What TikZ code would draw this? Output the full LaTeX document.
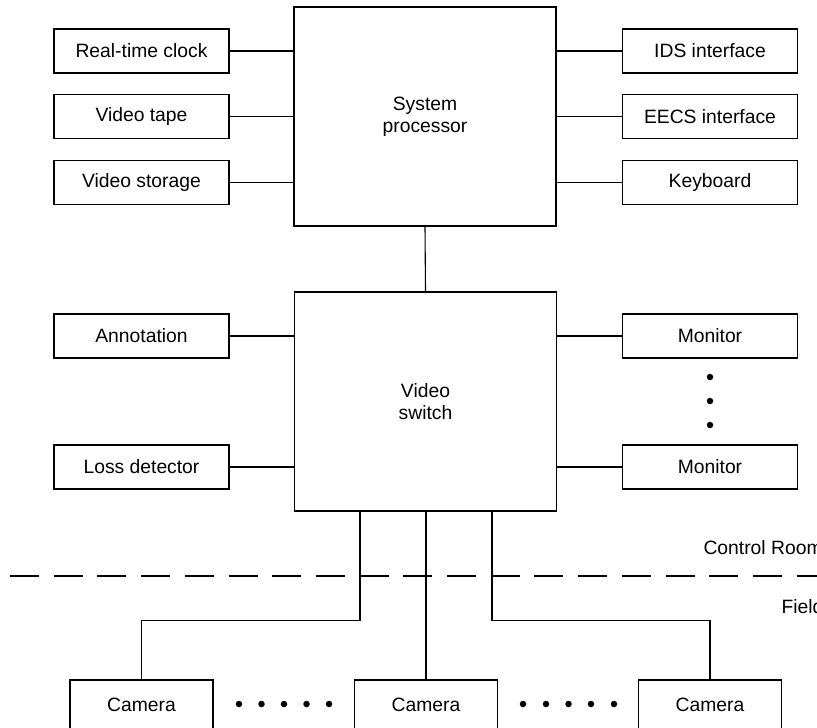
\documentclass[tikz,border=0pt]{standalone}
\usepackage{fontspec}
\setmainfont{Liberation Sans}
\begin{document}
\begin{tikzpicture}[x=1pt,y=-1pt,line width=1.1pt,
  txt/.style={font=\fontsize{19.3}{22}\selectfont},
  unit/.style={txt,draw,minimum width=175pt,minimum height=44pt,inner sep=0pt},
  core/.style={txt,draw,align=center,minimum width=262pt,minimum height=219pt,inner sep=0pt},
  cam/.style={txt,draw,minimum width=143pt,minimum height=50pt,inner sep=0pt},
  dot/.style={circle,fill,inner sep=0pt,minimum size=6.5pt},
  zone/.style={txt,anchor=west,inner sep=0pt}]
\useasboundingbox (0,0) rectangle (817,728);
\clip (0,0) rectangle (817,728);

% central blocks
\node[core] (sp) at (425,116.5) {System\\processor};
\node[core] (vs) at (425.5,401.5) {Video\\switch};

% peripherals of the system processor
\node[unit] (rtc)  at (141.5,51)    {Real-time clock};
\node[unit] (tape) at (141.5,116.5) {Video tape};
\node[unit] (stor) at (141.5,182.5) {Video storage};
\node[unit] (ids)  at (710,51)      {IDS interface};
\node[unit] (eecs) at (710,116.5)   {EECS interface};
\node[unit] (kbd)  at (710,182.5)   {Keyboard};

% peripherals of the video switch
\node[unit] (ann)  at (141.5,336)   {Annotation};
\node[unit] (loss) at (141.5,467)   {Loss detector};
\node[unit] (mon1) at (710,336)     {Monitor};
\node[unit] (mon2) at (710,467)     {Monitor};

% monitor ellipsis
\node[dot] (md1) at (710,377) {};
\node[dot] (md2) at (710,401) {};
\node[dot] (md3) at (710,425) {};

% cameras in the field
\node[cam] (cam1) at (141.5,705) {Camera};
\node[cam] (cam2) at (426,705)   {Camera};
\node[cam] (cam3) at (710,705)   {Camera};

\foreach \x [count=\i] in {239,261.5,284,306.5,329}
  \node[dot] (cdl\i) at (\x,704) {};
\foreach \x [count=\i] in {523,546,568.5,591,614}
  \node[dot] (cdr\i) at (\x,704) {};

% connectors
\foreach \n in {rtc,tape,stor,ann,loss}
  \draw (\n.east) -- (\n.east -| vs.west);
\foreach \n in {ids,eecs,kbd,mon1,mon2}
  \draw (\n.west) -- (\n.west -| vs.east);
\draw (sp.south) -- (vs.north);
\draw ([xshift=-65.5pt]vs.south) -- ++(0,109) -| (cam1.north);
\draw (cam2.north |- vs.south) -- (cam2.north);
\draw ([xshift=66.5pt]vs.south) -- ++(0,109) -| (cam3.north);

% boundary between control room and field
\draw[dash pattern=on 29pt off 14.7pt] (10,576) -- (840,576);
\node[zone] (cr) at (703,548) {Control Room};
\node[zone] (fd) at (781,607) {Field};
\end{tikzpicture}
\end{document}
